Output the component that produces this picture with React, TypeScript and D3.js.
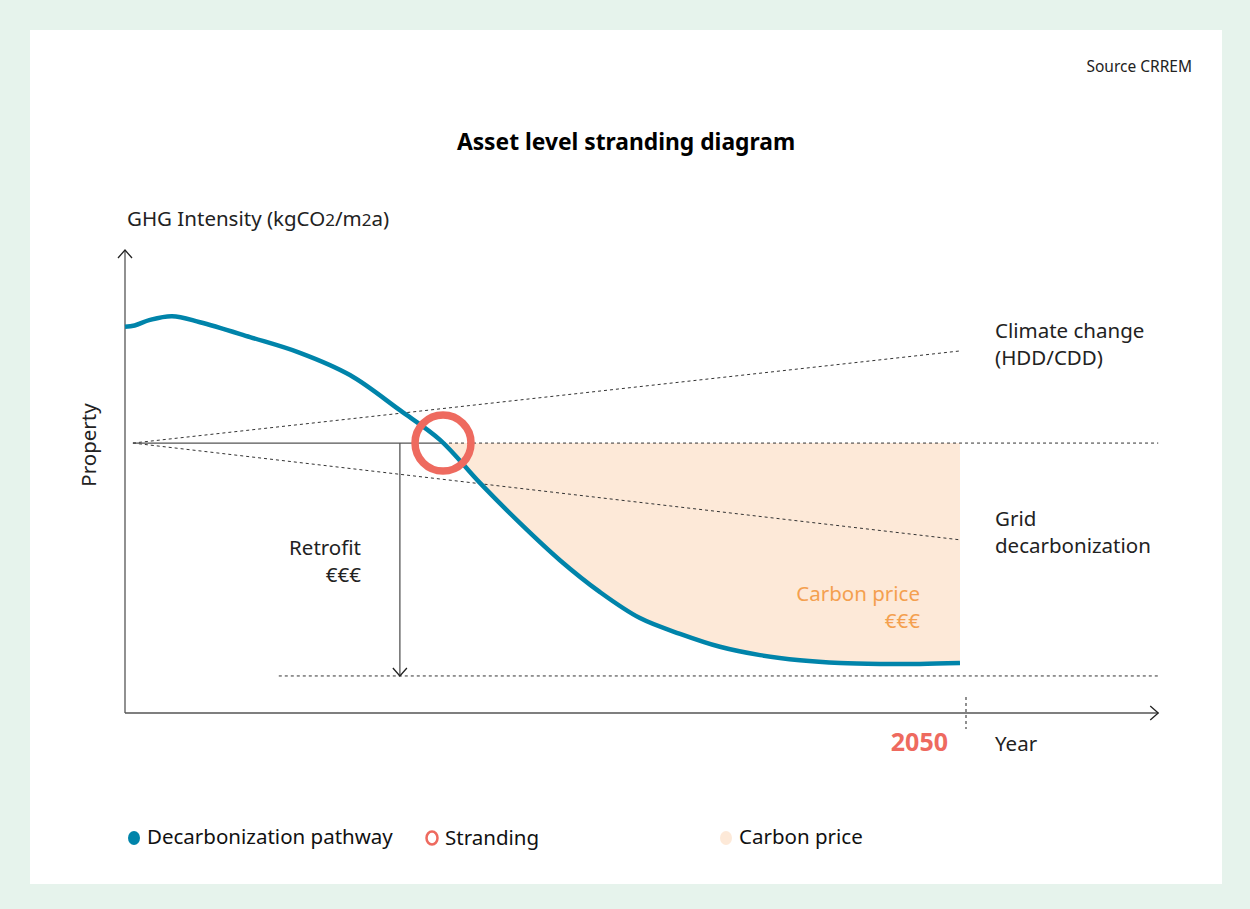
import React from 'react';
import * as d3 from 'd3';

// schematic pathway, x = year, y = GHG intensity (index units)
const pathwayYears = [2015, 2015.4, 2016.04, 2016.96, 2018.12, 2020.2, 2022.28, 2024.36, 2026.44, 2028.11, 2029.77, 2031.44, 2033.1, 2034.77, 2036.43, 2038.1, 2039.76, 2041.43, 2043.09, 2044.76, 2046.42, 2048.08, 2049.75];
const pathwayValues = [83.4, 83.7, 84.9, 85.7, 84.4, 81.2, 77.8, 73.0, 65.4, 59.0, 49.7, 41.0, 33.0, 26.1, 20.5, 17.1, 14.3, 12.5, 11.4, 10.8, 10.6, 10.6, 10.8];

const originYear = 2015.33;
const strandingLevel = 58.3;
const targetLevel = 8.0;
const climateEnd = 78.2;
const gridEnd = 37.4;
const endYear = 2049.75;
const retrofitYear = 2026.44;
const targetStartYear = 2021.4;
const axisMaxYear = 2058;
const axisMaxValue = 100;

const legendItems = ['Decarbonization pathway', 'Stranding', 'Carbon price'];

const BLUE = '#0084aa';
const RED = '#ee6a5f';
const PEACH = '#fde9d8';
const ORANGE = '#f4a04f';
const GREY = '#555';
const FONT = '"Noto Sans", Lato, sans-serif';
const FS = 20.5;

const App = () => {
  const x = d3.scaleLinear().domain([2015, 2050]).range([125, 966]);
  const y = d3.scaleLinear().domain([0, 100]).range([713, 250]);

  const pts: [number, number][] = pathwayYears.map((yr, i) => [yr, pathwayValues[i]]);

  const line = d3.line<[number, number]>()
    .x(d => x(d[0]))
    .y(d => y(d[1]))
    .curve(d3.curveCatmullRom.alpha(0.5));

  // where the pathway drops below the stranding level
  let cross: [number, number] = pts[0];
  for (let i = 1; i < pts.length; i++) {
    if (pts[i][1] <= strandingLevel && pts[i - 1][1] > strandingLevel) {
      const t = (pts[i - 1][1] - strandingLevel) / (pts[i - 1][1] - pts[i][1]);
      cross = [pts[i - 1][0] + t * (pts[i][0] - pts[i - 1][0]), strandingLevel];
    }
  }
  const below: [number, number][] = [cross, ...pts.filter(p => p[0] > cross[0])];

  const area = d3.area<[number, number]>()
    .x(d => x(d[0]))
    .y0(y(strandingLevel))
    .y1(d => y(d[1]))
    .curve(d3.curveCatmullRom.alpha(0.5));

  const xAxisEnd = x(axisMaxYear);

  return (
    <div style={{ position: 'absolute', left: 0, top: 0 }}>
      <svg width={1250} height={909} style={{ display: 'block', fontFamily: FONT }}>
        <rect x={0} y={0} width={1250} height={909} fill="#e6f3ec" />
        <rect x={30} y={30} width={1192} height={854} fill="#fff" />

        <text x={1192} y={72} fontSize={15.5} textAnchor="end" fill="#222">Source CRREM</text>
        <text x={626} y={150} fontSize={22.8} fontWeight="bold" textAnchor="middle" fill="#000">Asset level stranding diagram</text>

        <text x={127} y={226} fontSize={FS} fill="#222">
          GHG Intensity (kgCO<tspan fontSize={17}>2</tspan>/m<tspan fontSize={17}>2</tspan>a)
        </text>
        <text transform="translate(96,445) rotate(-90)" fontSize={FS} textAnchor="middle" fill="#222">Property</text>

        {/* carbon price fill */}
        <path d={area(below) || ''} fill={PEACH} />

        {/* axes */}
        <line x1={x(2015)} x2={x(2015)} y1={y(0)} y2={y(axisMaxValue)} stroke={GREY} strokeWidth={1.3} />
        <path d={`M${x(2015) - 7},${y(axisMaxValue) + 8}L${x(2015)},${y(axisMaxValue)}L${x(2015) + 7},${y(axisMaxValue) + 8}`} fill="none" stroke="#222" strokeWidth={1.3} />
        <line x1={x(2015)} x2={xAxisEnd} y1={y(0)} y2={y(0)} stroke={GREY} strokeWidth={1.3} />
        <path d={`M${xAxisEnd - 8},${y(0) - 7}L${xAxisEnd},${y(0)}L${xAxisEnd - 8},${y(0) + 7}`} fill="none" stroke="#222" strokeWidth={1.3} />
        <line x1={x(2050)} x2={x(2050)} y1={y(0) - 16} y2={y(0) + 16} stroke={GREY} strokeWidth={1.3} strokeDasharray="3,3" />
        <text x={948} y={751} fontSize={25} fontWeight="bold" textAnchor="end" fill={RED}>2050</text>
        <text x={995} y={751} fontSize={FS} fill="#222">Year</text>

        {/* scenario lines */}
        <line x1={x(originYear)} y1={y(strandingLevel)} x2={x(endYear)} y2={y(climateEnd)} stroke="#333" strokeWidth={1} strokeDasharray="3,3" />
        <line x1={x(originYear)} y1={y(strandingLevel)} x2={x(endYear)} y2={y(gridEnd)} stroke="#333" strokeWidth={1} strokeDasharray="3,3" />
        <line x1={x(originYear)} y1={y(strandingLevel)} x2={x(cross[0])} y2={y(strandingLevel)} stroke={GREY} strokeWidth={1.3} />
        <line x1={x(cross[0])} y1={y(strandingLevel)} x2={xAxisEnd} y2={y(strandingLevel)} stroke="#333" strokeWidth={1} strokeDasharray="3,3" />
        <line x1={x(targetStartYear)} y1={y(targetLevel)} x2={xAxisEnd} y2={y(targetLevel)} stroke="#333" strokeWidth={1} strokeDasharray="3,3" />

        {/* retrofit arrow */}
        <line x1={x(retrofitYear)} x2={x(retrofitYear)} y1={y(strandingLevel)} y2={y(targetLevel)} stroke={GREY} strokeWidth={1.3} />
        <path d={`M${x(retrofitYear) - 7},${y(targetLevel) - 8}L${x(retrofitYear)},${y(targetLevel)}L${x(retrofitYear) + 7},${y(targetLevel) - 8}`} fill="none" stroke="#222" strokeWidth={1.3} />
        <text x={361} y={555} fontSize={FS} textAnchor="end" fill="#222">Retrofit</text>
        <text x={361} y={582} fontSize={FS} textAnchor="end" fill="#222">€€€</text>

        <text x={920} y={601} fontSize={FS} textAnchor="end" fill={ORANGE}>Carbon price</text>
        <text x={920} y={628} fontSize={FS} textAnchor="end" fill={ORANGE}>€€€</text>

        <text x={995} y={338} fontSize={FS} fill="#222">Climate change</text>
        <text x={995} y={365} fontSize={FS} fill="#222">(HDD/CDD)</text>
        <text x={995} y={526} fontSize={FS} fill="#222">Grid</text>
        <text x={995} y={553} fontSize={FS} fill="#222">decarbonization</text>

        {/* pathway */}
        <path d={line(pts) || ''} fill="none" stroke={BLUE} strokeWidth={4.5} />

        {/* stranding point */}
        <circle cx={x(cross[0])} cy={y(strandingLevel)} r={28} fill="none" stroke={RED} strokeWidth={7.5} />

        {/* legend */}
        <ellipse cx={134} cy={838} rx={6} ry={7} fill={BLUE} />
        <text x={147} y={844} fontSize={FS} fill="#111">{legendItems[0]}</text>
        <ellipse cx={432} cy={838} rx={5.5} ry={6.5} fill="none" stroke={RED} strokeWidth={2.5} />
        <text x={445} y={845} fontSize={FS} fill="#111">{legendItems[1]}</text>
        <ellipse cx={726} cy={838} rx={6} ry={7} fill={PEACH} />
        <text x={739} y={844} fontSize={FS} fill="#111">{legendItems[2]}</text>
      </svg>
    </div>
  );
};

export default App;
